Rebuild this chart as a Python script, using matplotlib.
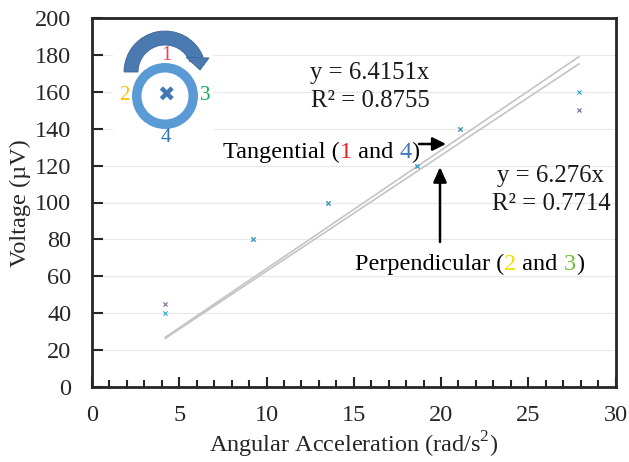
import numpy as np
import matplotlib
matplotlib.use("Agg")
import matplotlib.pyplot as plt
from matplotlib.patches import Wedge, Polygon, Rectangle

plt.rcParams['font.family'] = ['Liberation Serif', 'DejaVu Serif']
plt.rcParams['mathtext.fontset'] = 'custom'
plt.rcParams['mathtext.rm'] = 'Liberation Serif'

accel_tangential = [4.2, 9.2, 13.5, 18.6, 21.1, 27.9]
volt_tangential = [40, 80, 100, 120, 140, 160]
accel_perpendicular = [4.2, 9.2, 13.5, 18.6, 21.1, 27.9]
volt_perpendicular = [45, 80, 100, 120, 140, 150]
slope_tangential = 6.4151
slope_perpendicular = 6.276
fit_x = [4.2, 27.9]
y_ticks = list(range(0, 201, 20))
x_ticks = list(range(0, 31, 5))

W, H = 629, 462
fig = plt.figure(figsize=(W/100, H/100), dpi=100)
L, R, T, B = 92, 615.5, 18, 387
ax = fig.add_axes([L/W, 1-B/H, (R-L)/W, (B-T)/H])
ax.set_xlim(0, (R-L)/17.5)
ax.set_ylim(0, 200)
ax.grid(axis='y', color='#e8e8e8', lw=0.8)
ax.set_axisbelow(True)
for s in ax.spines.values():
    s.set_linewidth(2.0)
    s.set_color('#262626')
ax.set_xticks(x_ticks)
ax.set_xticks(range(0, 31), minor=True)
ax.set_yticks(y_ticks)
ax.tick_params(axis='x', which='major', direction='in', length=7, width=1.5, labelsize=17.5, pad=13, color='#262626', labelcolor='#262626')
ax.tick_params(axis='x', which='minor', direction='in', length=5, width=1.5, color='#262626')
ax.tick_params(axis='y', which='major', direction='in', length=8, width=1.5, labelsize=17.5, pad=15, color='#262626', labelcolor='#262626')
ax.set_xlabel('Angular Acceleration (rad/s$^{2}$)', fontsize=17.5, color='#262626', labelpad=2.5)

fx = np.array(fit_x)
ax.plot(fx, slope_tangential*fx, color='#c4c4c4', lw=1.2, zorder=2)
ax.plot(fx, slope_perpendicular*fx, color='#c4c4c4', lw=1.2, zorder=2)
ax.scatter(accel_perpendicular, volt_perpendicular, marker='x', s=9, lw=0.8, color='#8064a2', zorder=3)
ax.scatter(accel_tangential, volt_tangential, marker='x', s=9, lw=0.8, color='#31a9c8', zorder=4)

# overlay in pixel coordinates for the pasted annotations
ov = fig.add_axes([0, 0, 1, 1], facecolor='none')
ov.set_xlim(0, W); ov.set_ylim(H, 0); ov.axis('off')
ov.text(20, 203, 'Voltage (µV)', fontsize=17.5, color='#262626', rotation=90, ha='center', va='center')
ov.add_patch(Rectangle((113, 22), 100, 113, fc='white', ec='none'))
ov.add_patch(Wedge((165, 72), 41, 180, 338, width=14, fc='#4a7ab0', ec='#3a6596', lw=0.6))
ov.add_patch(Polygon([[186, 57], [209, 58], [200, 70]], fc='#4a7ab0', ec='#3a6596', lw=0.6))
ov.add_patch(Wedge((165, 96), 33, 0, 360, width=9.5, fc='#5b9bd5', ec='none'))
ov.text(166, 96, '✖', fontsize=15, color='#3f78b5', ha='center', va='center', family='DejaVu Sans')
for t, x, y, c in [('1', 166, 55, '#f0405f'), ('2', 124, 96, '#ffc000'), ('3', 205, 96, '#00b050'), ('4', 166, 138, '#2e75b6')]:
    ov.text(x, y, t, fontsize=15, color=c, ha='center', va='center')

tc = '#1a1a1a'
ov.text(370, 73, 'y = 6.4151x', fontsize=17.8, color=tc, ha='center', va='center')
ov.text(370, 101, 'R² = 0.8755', fontsize=17.8, color=tc, ha='center', va='center')
ov.text(550, 176, 'y = 6.276x', fontsize=17.8, color=tc, ha='center', va='center')
ov.text(551, 204, 'R² = 0.7714', fontsize=17.8, color=tc, ha='center', va='center')

def parts(x, y, segs):
    r = fig.canvas.get_renderer()
    for s, c in segs:
        t = ov.text(x, y, s, fontsize=17.5, color=c, ha='left', va='baseline')
        x += t.get_window_extent(r).width

parts(223, 158, [('Tangential (', 'black'), ('1', '#e8202a'), (' and ', 'black'), ('4', '#4472c4'), (')', 'black')])
parts(355, 270, [('Perpendicular (', 'black'), ('2', '#f0e000'), (' and ', 'black'), ('3', '#70c030'), (')', 'black')])
ov.annotate('', xy=(446, 144), xytext=(419, 144), arrowprops=dict(arrowstyle='-|>,head_width=0.4,head_length=0.8', color='black', lw=1.8, shrinkA=0, shrinkB=0))
ov.annotate('', xy=(440, 167), xytext=(440, 242), arrowprops=dict(arrowstyle='-|>,head_width=0.4,head_length=0.9', color='black', lw=1.8, shrinkA=0, shrinkB=0))

fig.savefig('out.png', dpi=100)
